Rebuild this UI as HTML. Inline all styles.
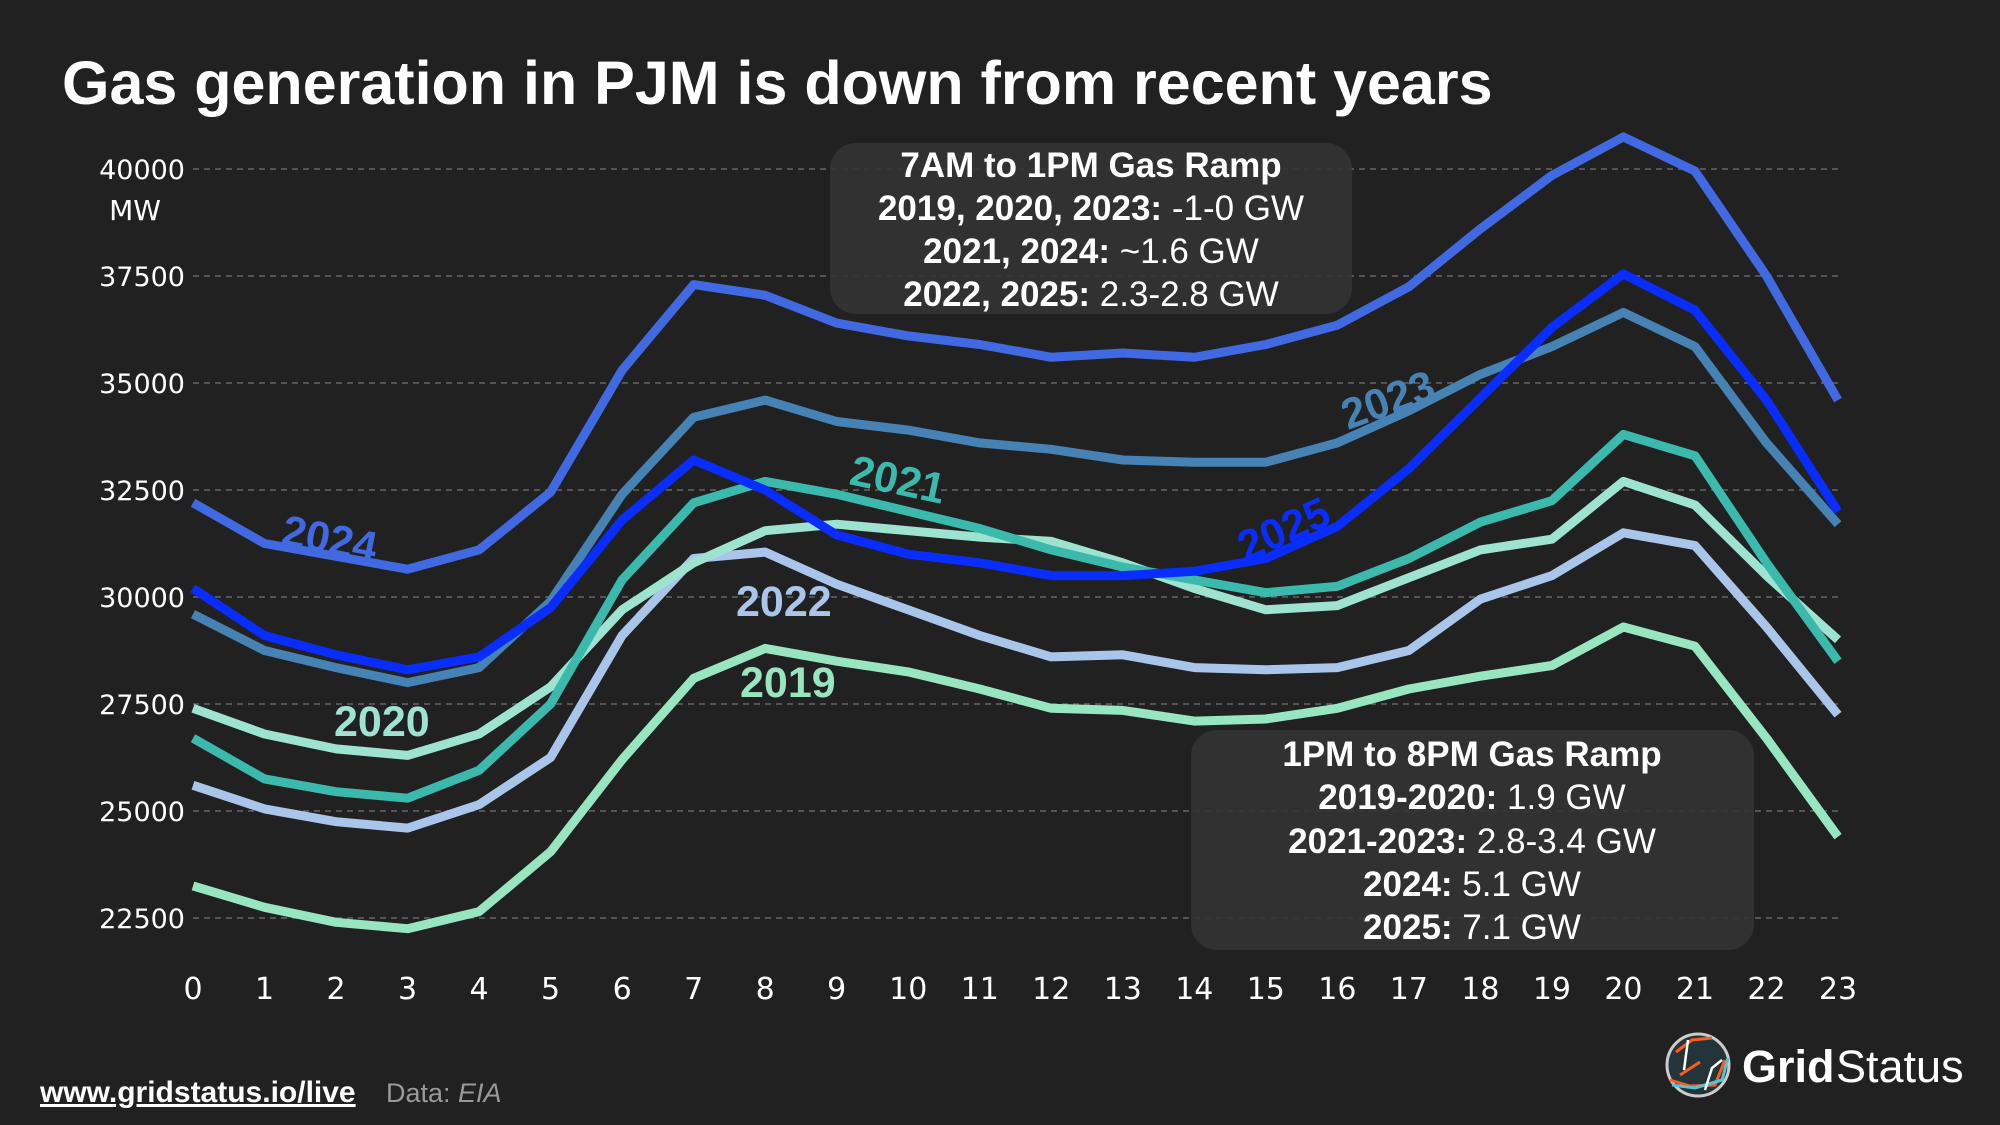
<!DOCTYPE html>
<html><head><meta charset="utf-8"><style>
html,body{margin:0;padding:0;background:#212121;}
svg{display:block;}
</style></head><body>
<svg id="chart" width="2000" height="1125" viewBox="0 0 2000 1125" xmlns="http://www.w3.org/2000/svg">
<rect x="0" y="0" width="2000" height="1125" fill="#212121"/>
<text x="62" y="104" font-family="Liberation Sans, sans-serif" font-weight="bold" font-size="61" fill="#ffffff">Gas generation in PJM is down from recent years</text>
<g id="grid"></g>
<g id="yticks"></g>
<text x="135" y="220" text-anchor="middle" font-family="DejaVu Sans, sans-serif" font-size="28" fill="#ffffff">MW</text>
<g id="xticks"></g>
<g id="lines"></g>

<g>
<rect x="830" y="143" width="522" height="171" rx="26" fill="#333333" fill-opacity="0.92"/>
<g font-family="Liberation Sans, sans-serif" font-size="35" fill="#ffffff" text-anchor="middle">
<text x="1091" y="177" font-weight="bold">7AM to 1PM Gas Ramp</text>
<text x="1091" y="220"><tspan font-weight="bold">2019, 2020, 2023:</tspan> -1-0 GW</text>
<text x="1091" y="263"><tspan font-weight="bold">2021, 2024:</tspan> ~1.6 GW</text>
<text x="1091" y="306"><tspan font-weight="bold">2022, 2025:</tspan> 2.3-2.8 GW</text>
</g></g>

<g>
<rect x="1191" y="730" width="563" height="220" rx="26" fill="#333333" fill-opacity="0.92"/>
<g font-family="Liberation Sans, sans-serif" font-size="35" fill="#ffffff" text-anchor="middle">
<text x="1472" y="766" font-weight="bold">1PM to 8PM Gas Ramp</text>
<text x="1472" y="809"><tspan font-weight="bold">2019-2020:</tspan> 1.9 GW</text>
<text x="1472" y="853"><tspan font-weight="bold">2021-2023:</tspan> 2.8-3.4 GW</text>
<text x="1472" y="896"><tspan font-weight="bold">2024:</tspan> 5.1 GW</text>
<text x="1472" y="939"><tspan font-weight="bold">2025:</tspan> 7.1 GW</text>
</g></g>

<g id="labels" font-family="Liberation Sans, sans-serif" font-weight="bold" font-size="43">
<text fill="#4169e1" transform="translate(280,544) rotate(11)">2024</text>
<text fill="#9de3d0" x="334" y="736">2020</text>
<text fill="#a9c6ea" x="736" y="616">2022</text>
<text fill="#98e6c0" x="740" y="697">2019</text>
<text fill="#3cb9ad" transform="translate(848,484) rotate(12)">2021</text>
<text fill="#0a2dff" transform="translate(1246,562) rotate(-24)">2025</text>
<text fill="#4682b4" transform="translate(1348,430) rotate(-20)">2023</text>
</g>

<g>
<text x="40" y="1102" font-family="Liberation Sans, sans-serif" font-weight="bold" font-size="30" fill="#ffffff" text-decoration="underline">www.gridstatus.io/live</text>
<text x="386" y="1102" font-family="Liberation Sans, sans-serif" font-size="27" fill="#999999">Data: <tspan font-style="italic">EIA</tspan></text>
</g>
<g>
<circle cx="1698" cy="1065" r="31" fill="#233538" stroke="#cccccc" stroke-width="3"/>
<path d="M1676 1052 L1692 1040 L1712 1038 M1680 1075 L1700 1062 M1670 1080 L1690 1086 L1715 1085 L1725 1060" fill="none" stroke="#ff5a1f" stroke-width="3"/>
<path d="M1672 1085 L1695 1088 L1722 1080 L1728 1058" fill="none" stroke="#4cc6d8" stroke-width="3"/>
<path d="M1688 1040 L1684 1070 M1705 1090 L1712 1068 L1722 1060" fill="none" stroke="#ffffff" stroke-width="2.5"/>
<text x="1742" y="1082" font-family="Liberation Sans, sans-serif" font-weight="bold" font-size="45" fill="#ffffff">Grid</text>
<text x="1836" y="1082" font-family="Liberation Sans, sans-serif" font-size="45" fill="#ffffff">Status</text>
</g>
</svg>
<script>
const hours = [0,1,2,3,4,5,6,7,8,9,10,11,12,13,14,15,16,17,18,19,20,21,22,23];
const yTicks = [22500,25000,27500,30000,32500,35000,37500,40000];
const seriesNames = ["2019","2022","2020","2021","2023","2025","2024"];
const s2019 = [23250,22750,22400,22250,22650,24050,26200,28100,28800,28500,28250,27850,27400,27350,27100,27150,27400,27850,28150,28400,29300,28850,26700,24400];
const s2022 = [25600,25050,24750,24600,25150,26250,29100,30900,31050,30300,29700,29100,28600,28650,28350,28300,28350,28750,29950,30500,31500,31200,29300,27250];
const s2020 = [27400,26800,26450,26300,26800,27900,29700,30800,31550,31700,31550,31400,31300,30800,30200,29700,29800,30450,31100,31350,32700,32150,30500,29000];
const s2021 = [26700,25750,25450,25300,25950,27500,30400,32200,32700,32400,32000,31600,31100,30700,30400,30100,30250,30900,31750,32250,33800,33300,30800,28500];
const s2023 = [29600,28750,28350,28000,28350,29900,32400,34200,34600,34100,33900,33600,33450,33200,33150,33150,33600,34350,35200,35850,36650,35850,33600,31700];
const s2025 = [30200,29100,28650,28300,28600,29750,31800,33200,32500,31450,31000,30800,30500,30500,30600,30900,31650,33000,34650,36300,37550,36700,34600,32000];
const s2024 = [32200,31250,30950,30650,31100,32450,35300,37300,37050,36400,36100,35900,35600,35700,35600,35900,36350,37250,38600,39850,40750,39950,37500,34600];

const NS = "http://www.w3.org/2000/svg";
const X0 = 193, X1 = 1838, Y40 = 169, Y225 = 918;
function xs(h){ return X0 + (h-0)/(23-0)*(X1-X0); }
function ys(v){ return Y225 - (v-22500)/(40000-22500)*(Y225-Y40); }
function mk(tag, attrs){ const e=document.createElementNS(NS,tag); for(const k in attrs) e.setAttribute(k,attrs[k]); return e; }

const grid=document.getElementById('grid'), yt=document.getElementById('yticks'), xt=document.getElementById('xticks'), lines=document.getElementById('lines');
yTicks.forEach(v=>{
  const l=mk('line',{x1:X0,x2:X1,y1:ys(v),y2:ys(v),stroke:'#666666','stroke-width':1.5,'stroke-dasharray':'6,5'});
  
  
  grid.appendChild(l);
  const t=mk('text',{x:185,y:ys(v)+10,'text-anchor':'end','font-family':'DejaVu Sans, sans-serif','font-size':27,fill:'#ffffff'});
  t.textContent=v;
  
  
  yt.appendChild(t);
});
hours.forEach(h=>{
  const t=mk('text',{x:xs(h),y:999,'text-anchor':'middle','font-family':'DejaVu Sans, sans-serif','font-size':30,fill:'#ffffff'});
  t.textContent=h;
  
  
  xt.appendChild(t);
});
const data={"2019":s2019,"2022":s2022,"2020":s2020,"2021":s2021,"2023":s2023,"2025":s2025,"2024":s2024};
const colors={"2019":"#98e6c0","2022":"#a9c6ea","2020":"#9de3d0","2021":"#3cb9ad","2023":"#4682b4","2025":"#0a2dff","2024":"#4169e1"};
seriesNames.forEach(n=>{
  const pts=data[n].map((v,i)=>xs(hours[i]).toFixed(1)+','+ys(v).toFixed(1)).join(' ');
  const p=mk('polyline',{points:pts,fill:'none',stroke:colors[n],'stroke-width':9,'stroke-linejoin':'round'});
  
  
  lines.appendChild(p);
});
</script>
</body></html>
